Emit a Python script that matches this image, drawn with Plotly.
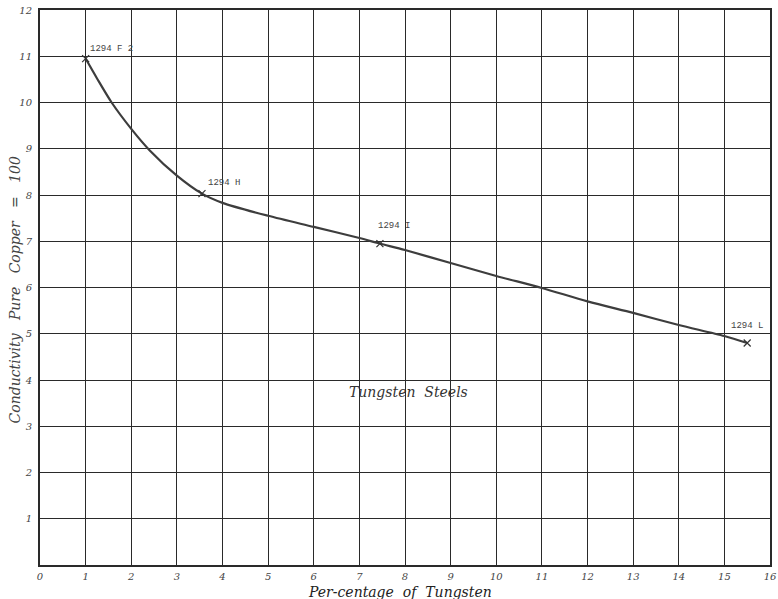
import plotly.graph_objects as go

# Measured sample points
sample_x = [1.0, 3.55, 7.45, 15.5]
sample_y = [10.95, 8.03, 6.95, 4.8]
sample_labels = ["1294 F 2", "1294 H", "1294 I", "1294 L"]
label_x = [1.57, 4.04, 7.76, 15.5]
label_y = [11.16, 8.26, 7.33, 5.17]

# Curve as drawn
curve_x = [1.0, 1.25, 1.57, 2.0, 2.4, 3.0, 3.55, 4.0, 5.0, 6.0, 7.0, 7.45, 8.0, 9.0, 10.0, 11.0, 12.0, 13.0, 14.0, 15.0, 15.5]
curve_y = [10.95, 10.52, 10.0, 9.43, 8.97, 8.42, 8.03, 7.83, 7.55, 7.31, 7.07, 6.95, 6.81, 6.53, 6.25, 5.99, 5.7, 5.45, 5.19, 4.95, 4.8]

x_ticks = list(range(0, 17))
x_ticktext = [str(v) for v in x_ticks]
y_ticks = list(range(1, 13))
y_ticktext = [str(v) for v in y_ticks]

ink = "#2a2a2a"
serif = "DejaVu Serif"
mono = "Liberation Mono"

fig = go.Figure()
fig.add_trace(go.Scatter(x=curve_x, y=curve_y, mode="lines",
                         line=dict(color="#3d3d3d", width=2.2, shape="spline", smoothing=0.8),
                         hoverinfo="skip", showlegend=False))
fig.add_trace(go.Scatter(x=sample_x, y=sample_y, mode="markers",
                         marker=dict(symbol="x-thin", size=7, line=dict(color="#333", width=1.2)),
                         showlegend=False))

for tx, ty, t in zip(label_x, label_y, sample_labels):
    fig.add_annotation(x=tx, y=ty, text=t, showarrow=False, xref="x", yref="y",
                       font=dict(family=mono, size=9, color="#444"))

fig.add_annotation(x=8.07, y=3.74, xref="x", yref="y", text="Tungsten  Steels", showarrow=False,
                   font=dict(family=serif, size=14, color="#333", style="italic"))

# Axis titles as paper annotations
fig.add_annotation(x=0.493, y=-0.048, xref="paper", yref="paper", text="Per-centage  of  Tungsten",
                   showarrow=False, xanchor="center", yanchor="middle",
                   font=dict(family=serif, size=14, color="#222", style="italic"))
fig.add_annotation(x=-0.034, y=0.495, xref="paper", yref="paper",
                   text="Conductivity   Pure   Copper   =   100", textangle=-90,
                   showarrow=False, xanchor="center", yanchor="middle",
                   font=dict(family=serif, size=14, color="#444", style="italic"))

fig.update_xaxes(range=[0, 16], tickmode="array", tickvals=x_ticks, ticktext=x_ticktext,
                 showgrid=True, gridcolor=ink, gridwidth=1.3, zeroline=False,
                 showline=True, linecolor=ink, linewidth=1.8, mirror=True, automargin=False,
                 ticks="", ticklabelstandoff=1,
                 tickfont=dict(family=serif, size=10, color="#444", style="italic"))
fig.update_yaxes(range=[0, 12], tickmode="array", tickvals=y_ticks, ticktext=y_ticktext,
                 showgrid=True, gridcolor=ink, gridwidth=1.3, zeroline=False,
                 showline=True, linecolor=ink, linewidth=1.8, mirror=True, automargin=False,
                 ticks="", ticklabelstandoff=4,
                 tickfont=dict(family=serif, size=10, color="#444", style="italic"))

fig.update_layout(width=778, height=599, margin=dict(l=40, r=8, t=10, b=34),
                  plot_bgcolor="white", paper_bgcolor="white")

fig.write_html("out.html", config={"displayModeBar": False},
               post_script="document.body.style.margin='0';")
